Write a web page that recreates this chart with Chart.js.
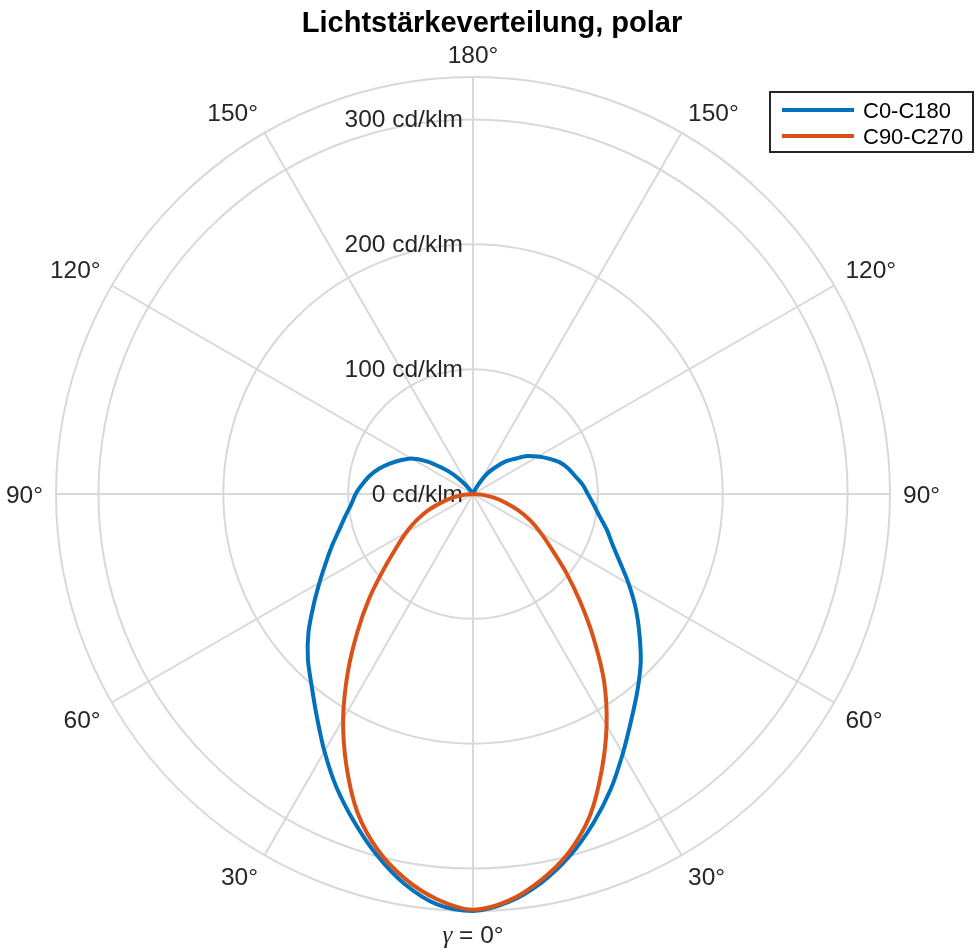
<!DOCTYPE html>
<html>
<head>
<meta charset="utf-8">
<title>Lichtstärkeverteilung</title>
<script src="https://cdn.jsdelivr.net/npm/chart.js@4.4.1/dist/chart.umd.min.js"></script>
<style>
  html, body { margin: 0; padding: 0; background: #fff; }
  #wrap { position: relative; width: 975px; height: 951px; }
</style>
</head>
<body>
<div id="wrap"><canvas id="ldc"></canvas></div>
<script>
/* Ausstrahlungswinkel gamma (Grad), 5°-Schritte */
const gammaDeg = [0, 5, 10, 15, 20, 25, 30, 35, 40, 45, 50, 55, 60, 65, 70, 75, 80, 85, 90,
  95, 100, 105, 110, 115, 120, 125, 130, 135, 140, 145, 150, 155, 160, 165, 170, 175, 180];

/* Lichtstärke in cd/klm je C-Ebene */
const c0 = [334, 328, 316, 300, 281, 261, 240, 221, 205, 190, 174, 159, 144, 130, 119, 111, 103, 97, 92,
  88, 83, 79, 74, 67, 60, 53, 44, 37, 28, 20, 10, 3, 0, 0, 0, 0, 0];
const c180 = [334, 330, 317, 299, 279, 259, 238, 218, 201, 187, 172, 156, 142, 130, 120, 111, 104, 98, 94,
  89, 84, 78, 71, 64, 57, 46, 33, 22, 11, 3, 0, 0, 0, 0, 0, 0, 0];
const c90 = [333, 327, 314, 297, 274, 244, 214, 183, 150, 121, 97, 77, 63, 51, 39, 27, 17, 8, 0,
  0, 0, 0, 0, 0, 0, 0, 0, 0, 0, 0, 0, 0, 0, 0, 0, 0, 0];
const c270 = [333, 326, 313, 295, 271, 240, 208, 175, 144, 117, 93, 75, 62, 50, 38, 26, 16, 7, 0,
  0, 0, 0, 0, 0, 0, 0, 0, 0, 0, 0, 0, 0, 0, 0, 0, 0, 0];

const seriesNames = ['C0-C180', 'C90-C270'];
const seriesColors = ['#0072BD', '#D95319'];
const radialTicks = [0, 100, 200, 300];
const angleTicks = [0, 30, 60, 90, 120, 150, 180];

const gridColor = '#d8d8d8';
const textColor = '#262626';
const sans = '"Liberation Sans", Arial, Helvetica, sans-serif';
const serifItalic = 'italic 25px "Liberation Serif", "DejaVu Serif", serif';

// full circle: index 0 points down, left half = C180/C270, right half = C0/C90
const step = gammaDeg[1] - gammaDeg[0];
const n = 360 / step;
const ringLabels = [];
for (let i = 0; i < n; i++) {
  const a = i * step;
  ringLabels.push(String(a <= 180 ? a : 360 - a));
}
function ring(left, right) {
  const out = [];
  for (let i = 0; i < n; i++) {
    const a = i * step;
    out.push(a <= 180 ? left[gammaDeg.indexOf(a)] : right[gammaDeg.indexOf(360 - a)]);
  }
  return out;
}
const rMax = Math.max(...c0, ...c180, ...c90, ...c270);

const polarText = {
  id: 'polarText',
  beforeDatasetsDraw(chart) {
    const r = chart.scales.r;
    const ctx = chart.ctx;
    ctx.save();
    ctx.font = '24.5px ' + sans;
    ctx.fillStyle = textColor;
    ctx.textAlign = 'right';
    ctx.textBaseline = 'alphabetic';
    radialTicks.forEach(v => {
      const d = r.getDistanceFromCenterForValue(v);
      ctx.fillText(v + ' cd/klm', r.xCenter - 10, r.yCenter - d + 8);
    });
    ctx.restore();
  },
  afterDraw(chart) {
    const r = chart.scales.r;
    const ctx = chart.ctx;
    const R = r.drawingArea;
    const capH = 17;
    ctx.save();

    // Winkelbeschriftung: Ecke der Textbox liegt auf dem Strahl
    ctx.fillStyle = textColor;
    ctx.textBaseline = 'alphabetic';
    ctx.textAlign = 'left';
    for (let i = 0; i < n; i++) {
      const g = Number(ringLabels[i]);
      if (!angleTicks.includes(g)) continue;
      const theta = r.getIndexAngle(i) - Math.PI / 2;
      const dx = Math.cos(theta), dy = Math.sin(theta);
      const p = r.getPointPosition(i, R + 13);
      let w;
      if (g === 0) {
        ctx.font = serifItalic;
        const wg = ctx.measureText('\u03b3').width;
        ctx.font = '24.5px ' + sans;
        w = wg + ctx.measureText(' = 0°').width;
      } else {
        ctx.font = '24.5px ' + sans;
        w = ctx.measureText(g + '°').width;
      }
      let x = p.x - w / 2;
      if (dx < -0.1) x = p.x - w;
      else if (dx > 0.1) x = p.x;
      let y = p.y + capH / 2;
      if (dy < -0.1) y = p.y - 1;
      else if (dy > 0.1) y = p.y + capH + 2;
      if (g === 0) {
        ctx.font = serifItalic;
        const wg = ctx.measureText('\u03b3').width;
        ctx.fillText('\u03b3', x, y);
        ctx.font = '24.5px ' + sans;
        ctx.fillText(' = 0°', x + wg, y);
      } else {
        ctx.fillText(g + '°', x, y);
      }
    }

    // Titel
    ctx.fillStyle = '#000';
    ctx.textAlign = 'center';
    ctx.font = 'bold 29px ' + sans;
    ctx.fillText('Lichtstärkeverteilung, polar', 492, 32);

    // Legende
    const bx = chart.width - 205, by = 92, bw = 203, bh = 60;
    ctx.fillStyle = '#fff';
    ctx.fillRect(bx, by, bw, bh);
    ctx.strokeStyle = '#262626';
    ctx.lineWidth = 2;
    ctx.strokeRect(bx, by, bw, bh);
    ctx.font = '22px ' + sans;
    ctx.textAlign = 'left';
    seriesNames.forEach((name, k) => {
      const y = by + 18 + k * 26;
      ctx.strokeStyle = seriesColors[k];
      ctx.lineWidth = 4;
      ctx.beginPath();
      ctx.moveTo(bx + 12, y);
      ctx.lineTo(bx + 84, y);
      ctx.stroke();
      ctx.fillStyle = '#000';
      ctx.fillText(name, bx + 93, y + 8);
    });
    ctx.restore();
  }
};

const ctxLdc = document.getElementById('ldc');
new Chart(ctxLdc, {
  type: 'radar',
  data: {
    labels: ringLabels,
    datasets: [
      { label: seriesNames[0], data: ring(c180, c0), borderColor: seriesColors[0], borderWidth: 4, fill: false, tension: 0.3, order: 1 },
      { label: seriesNames[1], data: ring(c270, c90), borderColor: seriesColors[1], borderWidth: 4, fill: false, tension: 0.3, order: 0 }
    ]
  },
  options: {
    responsive: true,
    maintainAspectRatio: false,
    animation: false,
    layout: { padding: { left: 56, right: 85, top: 77, bottom: 40 } },
    elements: {
      point: { radius: 0, hoverRadius: 0 },
      line: { borderJoinStyle: 'round' }
    },
    plugins: {
      legend: { display: false },
      title: { display: false },
      tooltip: { enabled: false }
    },
    scales: {
      r: {
        min: 0,
        max: rMax,
        startAngle: 180,
        afterBuildTicks: (scale) => {
          scale.ticks = radialTicks.concat([rMax]).map(v => ({ value: v }));
        },
        ticks: { display: false },
        grid: { circular: true, color: gridColor, lineWidth: 2 },
        angleLines: {
          color: gridColor,
          lineWidth: (c) => (angleTicks.includes(Number(ringLabels[c.index])) ? 2 : 0)
        },
        pointLabels: { display: false }
      }
    }
  },
  plugins: [polarText]
});
</script>
</body>
</html>
